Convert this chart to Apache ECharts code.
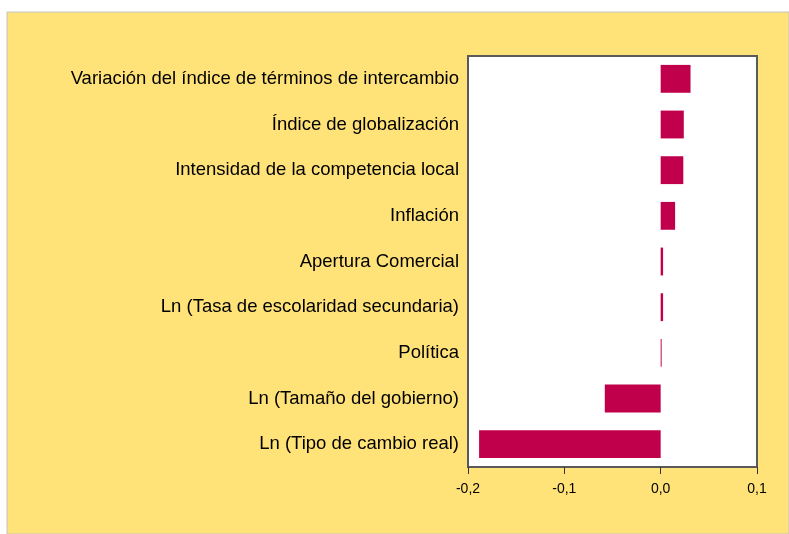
<!DOCTYPE html>
<html>
<head>
<meta charset="utf-8">
<script src="https://cdn.jsdelivr.net/npm/echarts@6/dist/echarts.min.js"></script>
<style>
html, body { margin: 0; padding: 0; background: #fff; }
#main { width: 789px; height: 534px; }
</style>
</head>
<body>
<div id="main"></div>
<script>
var categories = [
    'Variación del índice de términos de intercambio',
    'Índice de globalización',
    'Intensidad de la competencia local',
    'Inflación',
    'Apertura Comercial',
    'Ln (Tasa de escolaridad secundaria)',
    'Política',
    'Ln (Tamaño del gobierno)',
    'Ln (Tipo de cambio real)'
];
var values = [0.031, 0.024, 0.0235, 0.015, 0.0025, 0.0025, 0.001, -0.058, -0.1885];
var xTicks = [-0.2, -0.1, 0.0, 0.1];

var myChart = echarts.init(document.getElementById('main'));
var options = {
    backgroundColor: '#fff',
    animation: false,
    graphic: [{
        type: 'rect',
        z: -10,
        shape: { x: 7, y: 12, width: 782, height: 522 },
        style: { fill: '#FFE278', stroke: '#c4c4c4', lineWidth: 1 }
    }],
    grid: {
        left: 468,
        right: 32,
        top: 56,
        bottom: 67,
        show: true,
        backgroundColor: '#fff',
        borderColor: '#5a5a5a',
        borderWidth: 2
    },
    xAxis: {
        type: 'value',
        min: xTicks[0],
        max: xTicks[xTicks.length - 1],
        interval: 0.1,
        splitLine: { show: false },
        axisLine: { show: false },
        axisTick: { show: true, length: 7, lineStyle: { color: '#333' } },
        axisLabel: {
            color: '#000',
            fontSize: 14,
            fontFamily: 'Liberation Sans, Arial, sans-serif',
            margin: 15,
            formatter: function (v) {
                return v.toFixed(1).replace('.', ',');
            }
        }
    },
    yAxis: {
        type: 'category',
        inverse: true,
        data: categories,
        axisLine: { show: false },
        axisTick: { show: false },
        axisLabel: {
            color: '#000',
            fontSize: 18.5,
            fontFamily: 'Liberation Sans, Arial, sans-serif',
            margin: 9
        }
    },
    series: [{
        type: 'bar',
        data: values,
        barCategoryGap: '39%',
        itemStyle: { color: '#C0004A' }
    }]
};
myChart.setOption(options);
</script>
</body>
</html>
